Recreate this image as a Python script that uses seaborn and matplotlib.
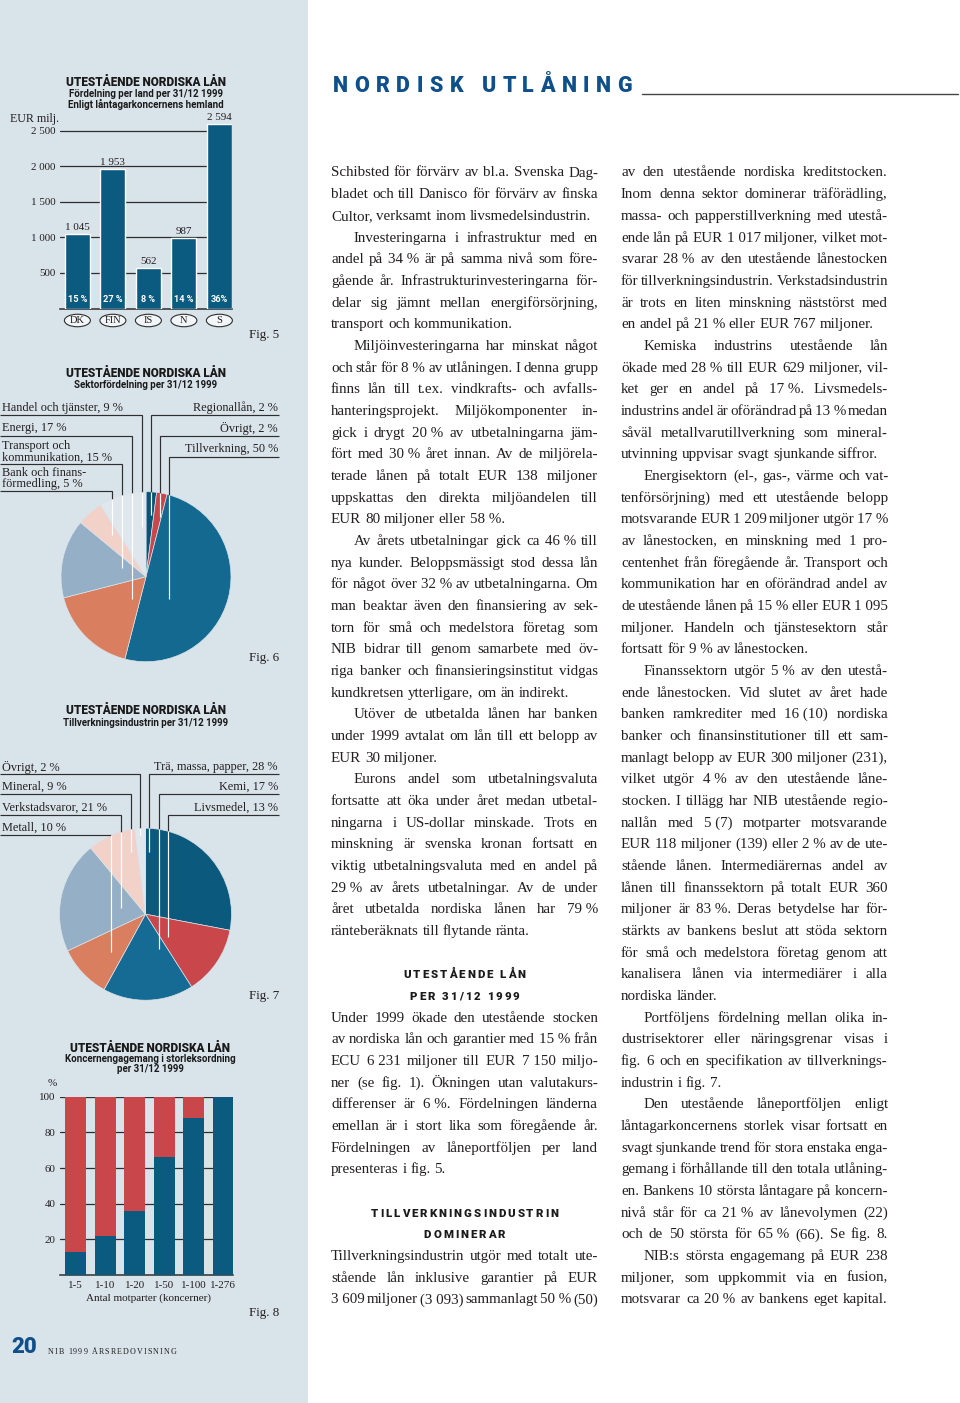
import re
import numpy as np
import pandas as pd
import matplotlib
matplotlib.use('Agg')
import matplotlib.pyplot as plt
import seaborn as sns
from matplotlib.patches import Ellipse, Rectangle
from matplotlib.font_manager import FontProperties
from matplotlib.transforms import blended_transform_factory

# ---------------- data ----------------
countries = ['DK', 'FIN', 'IS', 'N', 'S']
country_loans = [1045, 1953, 562, 987, 2594]
country_value_labels = ['1 045', '1 953', '562', '987', '2 594']
country_shares = ['15 %', '27 %', '8 %', '14 %', '36%']
fig5_yticks = [500, 1000, 1500, 2000, 2500]
fig5_yticklabels = ['500', '1 000', '1 500', '2 000', '2 500']

sectors = ['Regionallån', 'Övrigt', 'Tillverkning', 'Energi',
           'Transport och kommunikation', 'Bank och finansförmedling', 'Handel och tjänster']
sector_shares = [2, 2, 50, 17, 15, 5, 9]

industries = ['Trä, massa, papper', 'Livsmedel', 'Kemi', 'Metall',
              'Verkstadsvaror', 'Mineral', 'Övrigt']
industry_shares = [28, 13, 17, 10, 21, 9, 2]

size_groups = ['1-5', '1-10', '1-20', '1-50', '1-100', '1-276']
largest_share = [13, 22, 36, 66, 88, 100]
fig8_yticks = [20, 40, 60, 80, 100]
fig8_yticklabels = ['20', '40', '60', '80', '100']

# ---------------- body text ----------------
col1 = [
    "Schibsted för förvärv av bl.a. Svenska Dag-",
    "bladet och till Danisco för förvärv av finska",
    "Cultor, verksamt inom livsmedelsindustrin.~",
    ">Investeringarna i infrastruktur med en",
    "andel på 34 % är på samma nivå som före-",
    "gående år. Infrastrukturinvesteringarna för-",
    "delar sig jämnt mellan energiförsörjning,",
    "transport och kommunikation.~",
    ">Miljöinvesteringarna har minskat något",
    "och står för 8 % av utlåningen. I denna grupp",
    "finns lån till t.ex. vindkrafts- och avfalls-",
    "hanteringsprojekt. Miljökomponenter in-",
    "gick i drygt 20 % av utbetalningarna jäm-",
    "fört med 30 % året innan. Av de miljörela-",
    "terade lånen på totalt EUR 138 miljoner",
    "uppskattas den direkta miljöandelen till",
    "EUR 80 miljoner eller 58 %.~",
    ">Av årets utbetalningar gick ca 46 % till",
    "nya kunder. Beloppsmässigt stod dessa lån",
    "för något över 32 % av utbetalningarna. Om",
    "man beaktar även den finansiering av sek-",
    "torn för små och medelstora företag som",
    "NIB bidrar till genom samarbete med öv-",
    "riga banker och finansieringsinstitut vidgas",
    "kundkretsen ytterligare, om än indirekt.~",
    ">Utöver de utbetalda lånen har banken",
    "under 1999 avtalat om lån till ett belopp av",
    "EUR 30 miljoner.~",
    ">Eurons andel som utbetalningsvaluta",
    "fortsatte att öka under året medan utbetal-",
    "ningarna i US-dollar minskade. Trots en",
    "minskning är svenska kronan fortsatt en",
    "viktig utbetalningsvaluta med en andel på",
    "29 % av årets utbetalningar. Av de under",
    "året utbetalda nordiska lånen har 79 %",
    "ränteberäknats till flytande ränta.~",
    "",
    "#UTESTÅENDE LÅN",
    "#PER 31/12 1999",
    "Under 1999 ökade den utestående stocken",
    "av nordiska lån och garantier med 15 % från",
    "ECU 6 231 miljoner till EUR 7 150 miljo-",
    "ner (se fig. 1). Ökningen utan valutakurs-",
    "differenser är 6 %. Fördelningen länderna",
    "emellan är i stort lika som föregående år.",
    "Fördelningen av låneportföljen per land",
    "presenteras i fig. 5.~",
    "",
    "#TILLVERKNINGSINDUSTRIN",
    "#DOMINERAR",
    "Tillverkningsindustrin utgör med totalt ute-",
    "stående lån inklusive garantier på EUR",
    "3 609 miljoner (3 093) sammanlagt 50 % (50)",
]
col2 = [
    "av den utestående nordiska kreditstocken.",
    "Inom denna sektor dominerar träförädling,",
    "massa- och papperstillverkning med utestå-",
    "ende lån på EUR 1 017 miljoner, vilket mot-",
    "svarar 28 % av den utestående lånestocken",
    "för tillverkningsindustrin. Verkstadsindustrin",
    "är trots en liten minskning näststörst med",
    "en andel på 21 % eller EUR 767 miljoner.~",
    ">Kemiska industrins utestående lån",
    "ökade med 28 % till EUR 629 miljoner, vil-",
    "ket ger en andel på 17 %. Livsmedels-",
    "industrins andel är oförändrad på 13 % medan",
    "såväl metallvarutillverkning som mineral-",
    "utvinning uppvisar svagt sjunkande siffror.~",
    ">Energisektorn (el-, gas-, värme och vat-",
    "tenförsörjning) med ett utestående belopp",
    "motsvarande EUR 1 209 miljoner utgör 17 %",
    "av lånestocken, en minskning med 1 pro-",
    "centenhet från föregående år. Transport och",
    "kommunikation har en oförändrad andel av",
    "de utestående lånen på 15 % eller EUR 1 095",
    "miljoner. Handeln och tjänstesektorn står",
    "fortsatt för 9 % av lånestocken.~",
    ">Finanssektorn utgör 5 % av den utestå-",
    "ende lånestocken. Vid slutet av året hade",
    "banken ramkrediter med 16 (10) nordiska",
    "banker och finansinstitutioner till ett sam-",
    "manlagt belopp av EUR 300 miljoner (231),",
    "vilket utgör 4 % av den utestående låne-",
    "stocken. I tillägg har NIB utestående regio-",
    "nallån med 5 (7) motparter motsvarande",
    "EUR 118 miljoner (139) eller 2 % av de ute-",
    "stående lånen. Intermediärernas andel av",
    "lånen till finanssektorn på totalt EUR 360",
    "miljoner är 83 %. Deras betydelse har för-",
    "stärkts av bankens beslut att stöda sektorn",
    "för små och medelstora företag genom att",
    "kanalisera lånen via intermediärer i alla",
    "nordiska länder.~",
    ">Portföljens fördelning mellan olika in-",
    "dustrisektorer eller näringsgrenar visas i",
    "fig. 6 och en specifikation av tillverknings-",
    "industrin i fig. 7.~",
    ">Den utestående låneportföljen enligt",
    "låntagarkoncernens storlek visar fortsatt en",
    "svagt sjunkande trend för stora enstaka enga-",
    "gemang i förhållande till den totala utlåning-",
    "en. Bankens 10 största låntagare på koncern-",
    "nivå står för ca 21 % av lånevolymen (22)",
    "och de 50 största för 65 % (66). Se fig. 8.",
    ">NIB:s största engagemang på EUR 238",
    "miljoner, som uppkommit via en fusion,",
    "motsvarar ca 20 % av bankens eget kapital.",
]

# ---------------- style ----------------
W, H, DPI = 960, 1403, 100
BG = '#d9e3ea'
DARK_BLUE = '#0b5a80'
MID_BLUE = '#156b93'
RED = '#c9474b'
ORANGE = '#d97f60'
LIGHT_BLUE = '#94afc6'
PINK = '#f2d1c8'
PALE = '#dfe7ed'
LINE = '#2e2e2e'
TXT = '#231f20'
HEAD_BLUE = '#0f4f8a'

sns.set_theme(style='white')
plt.rcParams['font.family'] = ['Liberation Serif', 'DejaVu Serif']

SERIF = 'Liberation Serif'
SANS = 'Roboto'

fig = plt.figure(figsize=(W / DPI, H / DPI), dpi=DPI)
fig.patch.set_facecolor('white')
renderer = fig.canvas.get_renderer()


def rect(x0, y0, x1, y1):
    return [x0 / W, 1 - y1 / H, (x1 - x0) / W, (y1 - y0) / H]


bgax = fig.add_axes([0, 0, 1, 1], label='bg', zorder=-5)
bgax.set_xlim(0, W); bgax.set_ylim(H, 0); bgax.axis('off')
bgax.add_patch(Rectangle((0, 0), 308, H, color=BG, lw=0))

ov = fig.add_axes([0, 0, 1, 1], label='overlay', zorder=10)
ov.set_xlim(0, W); ov.set_ylim(H, 0); ov.axis('off')


def tw(s, fp):
    w, h, d = renderer.get_text_width_height_descent(s, fp, ismath=False)
    return w


def space_w(fp):
    return tw('a a', fp) - tw('aa', fp)


def tracked(x, y, s, fp, track, color, align='left', va='center'):
    sw = space_w(fp)
    widths = [sw if c == ' ' else tw(c, fp) for c in s]
    total = sum(widths) + track * (len(s) - 1)
    if align == 'center':
        x -= total / 2
    elif align == 'right':
        x -= total
    for c, w in zip(s, widths):
        if c != ' ':
            ov.text(x, y, c, fontproperties=fp, color=color, ha='left', va=va)
        x += w + track
    return total


# ---------------- Fig 5 : bars per country ----------------
f5_bottom, f5_top_val, f5_scale = 308.5, 2800, 35.6 / 500
ax5 = fig.add_axes(rect(60, f5_bottom - f5_top_val * f5_scale, 232, f5_bottom), label='fig5')
df5 = pd.DataFrame({'land': countries, 'lan': country_loans})
sns.barplot(data=df5, x='land', y='lan', color=DARK_BLUE, saturation=1, width=0.70,
            errorbar=None, ax=ax5, zorder=3)
ax5.set_xlim(-0.49, 4.355)
ax5.set_ylim(0, f5_top_val)
ax5.set_facecolor('none')
for sp in ['top', 'right', 'left']:
    ax5.spines[sp].set_visible(False)
ax5.spines['bottom'].set_color(LINE); ax5.spines['bottom'].set_linewidth(1.1)
ax5.set_axisbelow(True)
ax5.yaxis.grid(True, color=LINE, lw=0.9)
ax5.xaxis.grid(False)
ax5.set_yticks(fig5_yticks)
ax5.set_yticklabels(fig5_yticklabels, fontsize=7.9, family=SERIF, color=TXT)
ax5.tick_params(axis='y', length=0, pad=3.5)
ax5.set_xticks([])
ax5.set_xlabel(''); ax5.set_ylabel('')
ax5.bar_label(ax5.containers[0], labels=country_value_labels, padding=1.5,
              fontsize=7.9, family=SERIF, color=TXT)
for i, s in enumerate(country_shares):
    ax5.text(i, 133, s, ha='center', va='center', color='white', fontsize=6.6,
             fontweight='bold', family=SANS, zorder=5)
tr5 = blended_transform_factory(ax5.transData, ax5.transAxes)
ax_h = f5_top_val * f5_scale
for i, c in enumerate(countries):
    yc = (f5_bottom - 320.5) / ax_h
    ax5.add_patch(Ellipse((i, yc), 26 / 35.5, 12.5 / ax_h, transform=tr5, fc='#f3f6f8',
                          ec=LINE, lw=0.8, clip_on=False))
    ax5.text(i, yc, c, transform=tr5, ha='center', va='center', fontsize=7.6,
             family=SERIF, color=TXT, clip_on=False)

ov.text(10, 119, 'EUR milj.', fontsize=8.6, family=SERIF, color=TXT, ha='left', va='center')

title_fp = FontProperties(family=SANS, weight='black', size=8.5)
sub_fp = FontProperties(family=SANS, weight='bold', size=7.0)


def chart_title(cx, ys, lines):
    for k, (y, t) in enumerate(zip(ys, lines)):
        ov.text(cx, y, t, fontproperties=title_fp if k == 0 else sub_fp,
                color='#1a1a1a', ha='center', va='center')


chart_title(146, [83, 94.3, 104], ['UTESTÅENDE NORDISKA LÅN',
                                     'Fördelning per land per 31/12 1999',
                                     'Enligt låntagarkoncernens hemland'])
ov.text(279, 335, 'Fig. 5', fontsize=9.4, family=SERIF, color=TXT, ha='right', va='center')

# ---------------- pies ----------------
lab_fp = FontProperties(family=SERIF, size=8.8)


def pie_axes(cx, cy, r, values, colors, name):
    ax = fig.add_axes(rect(cx - r, cy - r, cx + r, cy + r), label=name)
    ax.pie(values, colors=colors, startangle=90, counterclock=False, radius=1,
           wedgeprops=dict(lw=0.5, edgecolor=BG))
    ax.set_xlim(-1, 1); ax.set_ylim(-1, 1); ax.set_aspect('equal'); ax.axis('off')
    return ax


def leader(x_start, y_line, x_end, y_end, cx, cy, r):
    ytop = cy - np.sqrt(max(r * r - (x_end - cx) ** 2, 0.0))
    ov.plot([x_start, x_end, x_end], [y_line, y_line, ytop], color=LINE, lw=0.85,
            solid_joinstyle='miter', solid_capstyle='butt')
    ov.plot([x_end, x_end], [ytop, y_end], color='white', lw=0.85, solid_capstyle='butt')


def pie_labels(cx, cy, r, left, right):
    for lines, ys, yl, xe, ye in left:
        for t, y in zip(lines, ys):
            ov.text(2, y, t, fontproperties=lab_fp, color=TXT, ha='left', va='center')
        leader(0, yl, xe, ye, cx, cy, r)
    for lines, ys, yl, xe, ye in right:
        for t, y in zip(lines, ys):
            ov.text(278, y, t, fontproperties=lab_fp, color=TXT, ha='right', va='center')
        leader(279, yl, xe, ye, cx, cy, r)


# Fig 6
c6 = (146, 576.7, 85)
pie_axes(*c6, sector_shares, ['#0b5477', RED, '#13698f', ORANGE, LIGHT_BLUE, PINK, PALE], 'fig6')
chart_title(146, [373.5, 385], ['UTESTÅENDE NORDISKA LÅN', 'Sektorfördelning per 31/12 1999'])
pie_labels(*c6,
           left=[([f'{sectors[6]}, {sector_shares[6]} %'], [408], 415, 141.7, 527),
                 ([f'{sectors[3]}, {sector_shares[3]} %'], [428.5], 436, 131.7, 599),
                 (['Transport och', f'kommunikation, {sector_shares[4]} %'], [445.5, 457.5], 464, 122.3, 568),
                 (['Bank och finans-', f'förmedling, {sector_shares[5]} %'], [472.5, 484.5], 491, 112.3, 535)],
           right=[([f'{sectors[0]}, {sector_shares[0]} %'], [408], 415, 151, 515),
                  ([f'{sectors[1]}, {sector_shares[1]} %'], [428.5], 436, 160, 517),
                  ([f'{sectors[2]}, {sector_shares[2]} %'], [449], 457, 169.3, 599)])
ov.text(279, 658, 'Fig. 6', fontsize=9.4, family=SERIF, color=TXT, ha='right', va='center')

# Fig 7
c7 = (145.5, 914.2, 86)
pie_axes(*c7, industry_shares, ['#0b5a7e', RED, MID_BLUE, ORANGE, LIGHT_BLUE, PINK, PALE], 'fig7')
chart_title(146, [710.5, 722.5], ['UTESTÅENDE NORDISKA LÅN', 'Tillverkningsindustrin per 31/12 1999'])
pie_labels(*c7,
           left=[([f'{industries[6]}, {industry_shares[6]} %'], [767], 774, 140, 835),
                 ([f'{industries[5]}, {industry_shares[5]} %'], [787], 794.3, 130.7, 852),
                 ([f'{industries[4]}, {industry_shares[4]} %'], [808], 815, 120.7, 908),
                 ([f'{industries[3]}, {industry_shares[3]} %'], [827.5], 835, 111, 952)],
           right=[([f'{industries[0]}, {industry_shares[0]} %'], [767], 774, 149.3, 852),
                  ([f'{industries[2]}, {industry_shares[2]} %'], [787], 794.3, 159, 949),
                  ([f'{industries[1]}, {industry_shares[1]} %'], [808], 815, 168.3, 937)])
ov.text(279, 996, 'Fig. 7', fontsize=9.4, family=SERIF, color=TXT, ha='right', va='center')

# ---------------- Fig 8 : stacked shares ----------------
ax8 = fig.add_axes(rect(60, 1096.7, 233, 1275), label='fig8')
df8 = pd.DataFrame({'grupp': size_groups, 'storst': largest_share})
df8['helhet'] = 100
sns.barplot(data=df8, x='grupp', y='helhet', color=RED, saturation=1, width=0.71,
            errorbar=None, ax=ax8, zorder=3)
sns.barplot(data=df8, x='grupp', y='storst', color=DARK_BLUE, saturation=1, width=0.71,
            errorbar=None, ax=ax8, zorder=4)
ax8.set_xlim(-0.524, 5.33)
ax8.set_ylim(0, 100)
ax8.set_facecolor('none')
for sp in ['top', 'right', 'left']:
    ax8.spines[sp].set_visible(False)
ax8.spines['bottom'].set_color(LINE); ax8.spines['bottom'].set_linewidth(1.1)
ax8.set_axisbelow(True)
ax8.yaxis.grid(True, color=LINE, lw=0.9)
ax8.xaxis.grid(False)
ax8.set_yticks(fig8_yticks)
ax8.set_yticklabels(fig8_yticklabels, fontsize=7.9, family=SERIF, color=TXT)
ax8.tick_params(axis='y', length=0, pad=3)
ax8.set_xticks(range(len(size_groups)))
ax8.set_xticklabels(size_groups, fontsize=7.9, family=SERIF, color=TXT)
ax8.tick_params(axis='x', length=0, pad=4)
ax8.set_xlabel(''); ax8.set_ylabel('')
for b in ax8.patches:
    b.set_linewidth(0)
ov.text(148, 1298.5, 'Antal motparter (koncerner)', fontsize=8.0, family=SERIF,
        color=TXT, ha='center', va='center')
ov.text(52, 1083, '%', fontsize=8.0, family=SERIF, color=TXT, ha='center', va='center')
chart_title(150, [1048, 1059.5, 1069.5], ['UTESTÅENDE NORDISKA LÅN',
                                          'Koncernengagemang i storleksordning',
                                          'per 31/12 1999'])
ov.text(279, 1313, 'Fig. 8', fontsize=9.4, family=SERIF, color=TXT, ha='right', va='center')

# ---------------- footer ----------------
ov.text(11, 1347, '20', fontproperties=FontProperties(family=SANS, weight='black', size=16),
        color=HEAD_BLUE, ha='left', va='center')
tracked(48, 1352.5, 'NIB 1999 ÅRSREDOVISNING', FontProperties(family=SERIF, size=5.8), 1.1, TXT)

# ---------------- page heading ----------------
head_fp = FontProperties(family=SANS, weight='black', size=15.5)
htxt = 'NORDISK UTLÅNING'
sw = space_w(head_fp)
raw = sum(sw if c == ' ' else tw(c, head_fp) for c in htxt)
track = (632 - 333 - raw) / (len(htxt) - 1)
tracked(333, 86, htxt, head_fp, track, HEAD_BLUE)
ov.plot([642, 958], [93.5, 93.5], color='#444444', lw=1.0)

# ---------------- body text ----------------
body_fp = FontProperties(family=SERIF, size=10.8)
subhead_fp = FontProperties(family=SANS, weight='black', size=8.2)
BASE0, PITCH, COLW, INDENT = 176.5, 21.67, 267, 23


def prep(s):
    return re.sub(r'(\d) (%|\d{3}|\()', '\\1\u00a0\\2', s)


def draw_column(lines, x0):
    sp = space_w(body_fp)
    for i, raw_line in enumerate(lines):
        y = BASE0 + i * PITCH
        if not raw_line:
            continue
        if raw_line.startswith('#'):
            tracked(x0 + COLW / 2, y, raw_line[1:], subhead_fp, 2.0, '#1a1a1a',
                    align='center', va='baseline')
            continue
        line = raw_line
        indent = 0
        if line.startswith('>'):
            indent = INDENT
            line = line[1:]
        justify = True
        if line.endswith('~'):
            justify = False
            line = line[:-1]
        words = prep(line).split(' ')
        ws = [tw(w, body_fp) for w in words]
        avail = COLW - indent
        if justify and len(words) > 1:
            gap = (avail - sum(ws)) / (len(words) - 1)
            gap = max(gap, 1.8)
        else:
            gap = sp
        x = x0 + indent
        for w, wd in zip(words, ws):
            ov.text(x, y, w, fontproperties=body_fp, color=TXT, ha='left', va='baseline')
            x += wd + gap


draw_column(col1, 331)
draw_column(col2, 621)

fig.savefig('out.png', dpi=DPI, facecolor='white')
